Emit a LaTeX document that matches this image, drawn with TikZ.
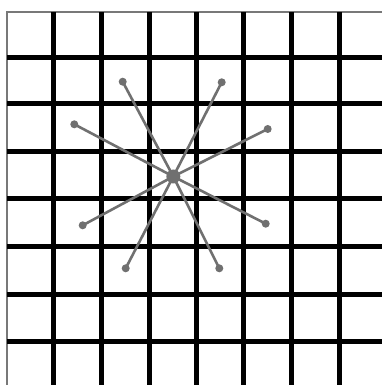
\documentclass[tikz,border=0pt]{standalone}
\usepackage{xcolor}
\usepackage{tikz}
\definecolor{spokegray}{RGB}{112, 112, 112}
\definecolor{edgegray}{RGB}{120, 120, 120}

\begin{document}
\begin{tikzpicture}[
    x=1pt, y=1pt,
    gridline/.style={draw=black, line width=5pt},
    frameline/.style={draw=edgegray, line width=1.2pt},
    hub/.style={circle, fill=spokegray, inner sep=0pt, minimum size=14pt},
    tip/.style={circle, fill=spokegray, inner sep=0pt, minimum size=8pt},
    spoke/.style={draw=spokegray, line width=2.6pt}
]
    \useasboundingbox (0,0) rectangle (382,385);
    \fill [white] (0,0) rectangle (382,385);

    % grid
    \draw [frameline] (7,0) -- (7,373) -- (382,373);
    \foreach \gx in {53,101,149,196,243,291,339}
        \draw [gridline] (\gx,0) -- (\gx,373);
    \foreach \gy in {43,90,138,186,233,281,327.5}
        \draw [gridline] (7,\gy) -- (382,\gy);

    % star
    \node [hub] (centre) at (173.3,208.5) {};
    \node [tip] (upleft)    at (122.7,303.3) {};
    \node [tip] (upright)   at (221.7,302.7) {};
    \node [tip] (leftup)    at (74.3,260.7)  {};
    \node [tip] (rightup)   at (267.7,256)   {};
    \node [tip] (leftdown)  at (82.7,159.7)  {};
    \node [tip] (rightdown) at (265.7,161.3) {};
    \node [tip] (downleft)  at (125.7,116.7) {};
    \node [tip] (downright) at (219.3,116.7) {};

    \foreach \p in {upleft,upright,leftup,rightup,leftdown,rightdown,downleft,downright}
        \path [spoke] (centre.center) -- (\p.center);
\end{tikzpicture}
\end{document}
